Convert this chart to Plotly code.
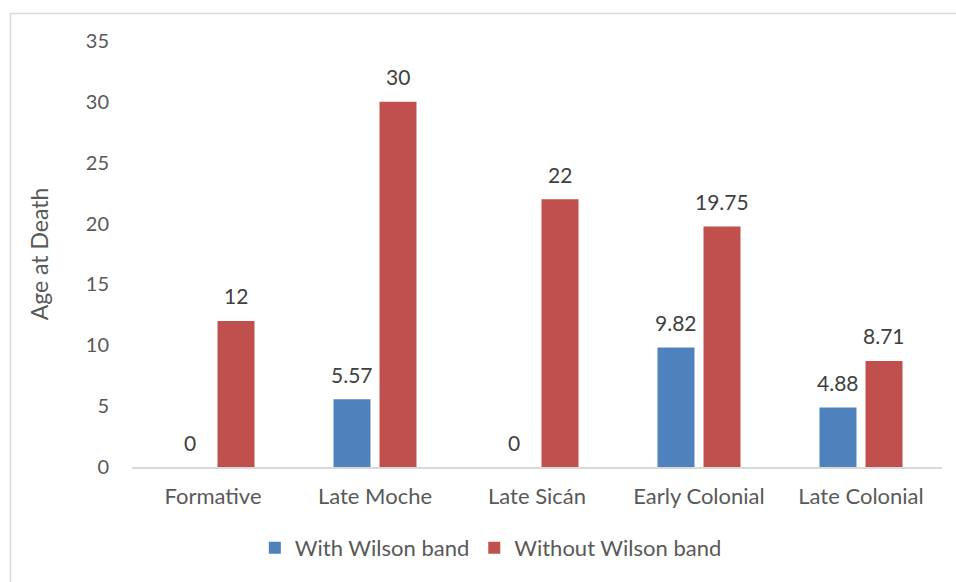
import plotly.graph_objects as go

categories = ["Formative", "Late Moche", "Late Sicán", "Early Colonial", "Late Colonial"]
with_band = [0, 5.57, 0, 9.82, 4.88]
without_band = [12, 30, 22, 19.75, 8.71]
with_labels = ["0", "5.57", "0", "9.82", "4.88"]
without_labels = ["12", "30", "22", "19.75", "8.71"]
series_names = ["With Wilson band", "Without Wilson band"]
y_ticks = [0, 5, 10, 15, 20, 25, 30, 35]

FONT = "Lato"
fig = go.Figure()
fig.add_trace(go.Bar(x=categories, y=with_band, name=series_names[0],
                     marker=dict(color="#4F81BD", line=dict(width=0))))
fig.add_trace(go.Bar(x=categories, y=without_band, name=series_names[1],
                     marker=dict(color="#C0504D", line=dict(width=0))))

ann = []
for cat, v, t in zip(categories, with_band, with_labels):
    ann.append(dict(x=cat, y=v, text=t, xshift=-23, yshift=25, showarrow=False,
                    font=dict(family=FONT, size=21, color="#404040")))
for cat, v, t in zip(categories, without_band, without_labels):
    ann.append(dict(x=cat, y=v, text=t, xshift=23, yshift=25, showarrow=False,
                    font=dict(family=FONT, size=21, color="#404040")))

fig.update_layout(
    width=956, height=582,
    margin=dict(l=132, r=14, t=41, b=115),
    paper_bgcolor="white", plot_bgcolor="white",
    barmode="group", bargap=0.432, bargroupgap=0.196,
    font=dict(family=FONT, size=22, color="#595959"),
    annotations=ann,
    legend=dict(orientation="h", x=0.443, xanchor="center", y=-0.19, yanchor="middle",
                font=dict(family=FONT, size=22, color="#595959"), itemwidth=30,
                traceorder="normal"),
    shapes=[dict(type="rect", xref="paper", yref="paper",
                 x0=(10.5 - 132) / 810, x1=1.2, y0=-0.5, y1=1 + (41 - 13.5) / 426,
                 line=dict(color="#D9D9D9", width=1.5), layer="below")],
)
fig.update_xaxes(showline=True, linecolor="#D9D9D9", linewidth=1.5, ticks="",
                 showgrid=False, ticklabelstandoff=9,
                 tickfont=dict(family=FONT, size=22, color="#595959"))
fig.update_yaxes(range=[0, 35], tickvals=y_ticks, showgrid=False, zeroline=False,
                 showline=False, ticks="", ticklabelstandoff=22,
                 title=dict(text="Age at Death", standoff=30,
                            font=dict(family=FONT, size=23, color="#595959")),
                 tickfont=dict(family=FONT, size=20, color="#595959"))

fig.write_html("out.html")
